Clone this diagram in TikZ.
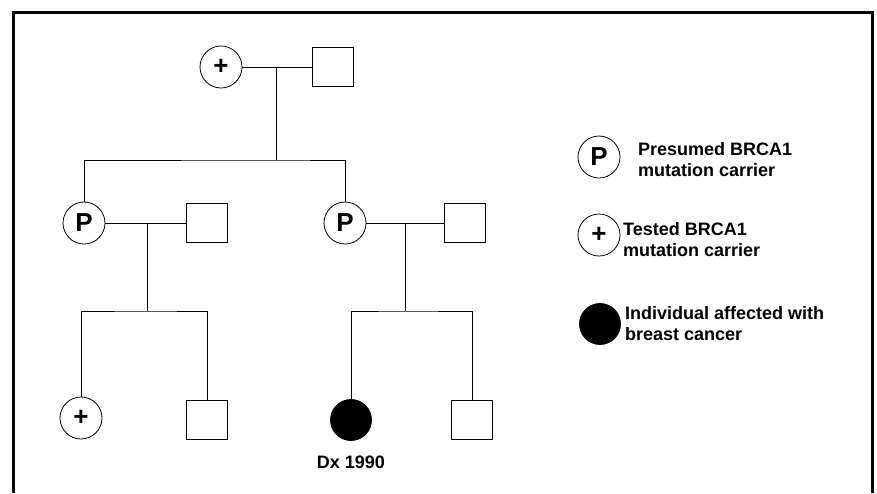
\documentclass[tikz,border=0pt]{standalone}
\usepackage{fontspec}
\setmainfont{Liberation Sans}
\usetikzlibrary{positioning}
\tikzset{
	fem/.style={draw,circle,minimum size=42pt,inner sep=0pt,line width=0.8pt},
	mal/.style={draw,rectangle,minimum width=41pt,minimum height=39pt,inner sep=0pt,line width=0.8pt},
	aff/.style={draw,circle,fill=black,minimum size=41pt,inner sep=0pt,line width=0.8pt},
	line/.style={line width=0.8pt},
	legtext/.style={anchor=west,align=left,inner sep=0pt,font=\bfseries\fontsize{18}{21}\selectfont}
}
\newcommand{\plus}{\bfseries\fontsize{26}{26}\selectfont +}
\newcommand{\pres}{\bfseries\fontsize{26}{26}\selectfont P}
\begin{document}
\begin{tikzpicture}[x=1pt,y=-1pt]
	\useasboundingbox (0,0) rectangle (877,493);
	\draw[line width=3pt] (13,493) -- (13,12) -- (872,12) -- (872,493);
	% first generation
	\node[fem] (gm) at (221,67) {\plus};
	\node[mal] (gf) at (333,67) {};
	\coordinate (m0) at (276,67);
	\coordinate (s0) at (276,160);
	% second generation
	\node[fem] (p1) at (84,223) {\pres};
	\node[mal] (h1) at (207,223) {};
	\node[fem] (p2) at (345,223) {\pres};
	\node[mal] (h2) at (465,223) {};
	\coordinate (m1) at (147,223);
	\coordinate (s1) at (147,311);
	\coordinate (m2) at (405,223);
	\coordinate (s2) at (405,311);
	% third generation
	\node[fem] (c1) at (81,418) {\plus};
	\node[mal] (c2) at (207,420) {};
	\node[aff] (c3) at (351,420) {};
	\node[mal] (c4) at (472,420) {};
	\node[below=15pt of c3,font=\bfseries\fontsize{18}{21}\selectfont,inner sep=0pt] (dx) {Dx 1990};
	% lines of descent
	\draw[line] (gm) -- (gf);
	\draw[line] (m0) -- (s0);
	\draw[line] (p1.north) |- (s0) -| (p2.north);
	\draw[line] (p1) -- (h1);
	\draw[line] (p2) -- (h2);
	\draw[line] (m1) -- (s1);
	\draw[line] (m2) -- (s2);
	\draw[line] (c1.north) |- (s1) -| (c2.north);
	\draw[line] (c3.north) |- (s2) -| (c4.north);
	% legend
	\node[fem] (lp) at (599,157) {\pres};
	\node[fem] (lt) at (599,235) {\plus};
	\node[aff] (la) at (600,324) {};
	\node[legtext] (lpt) at (638,160) {Presumed BRCA1\\mutation carrier};
	\node[legtext] (ltt) at (623,240) {Tested BRCA1\\mutation carrier};
	\node[legtext] (lat) at (625,324) {Individual affected with\\breast cancer};
\end{tikzpicture}
\end{document}
